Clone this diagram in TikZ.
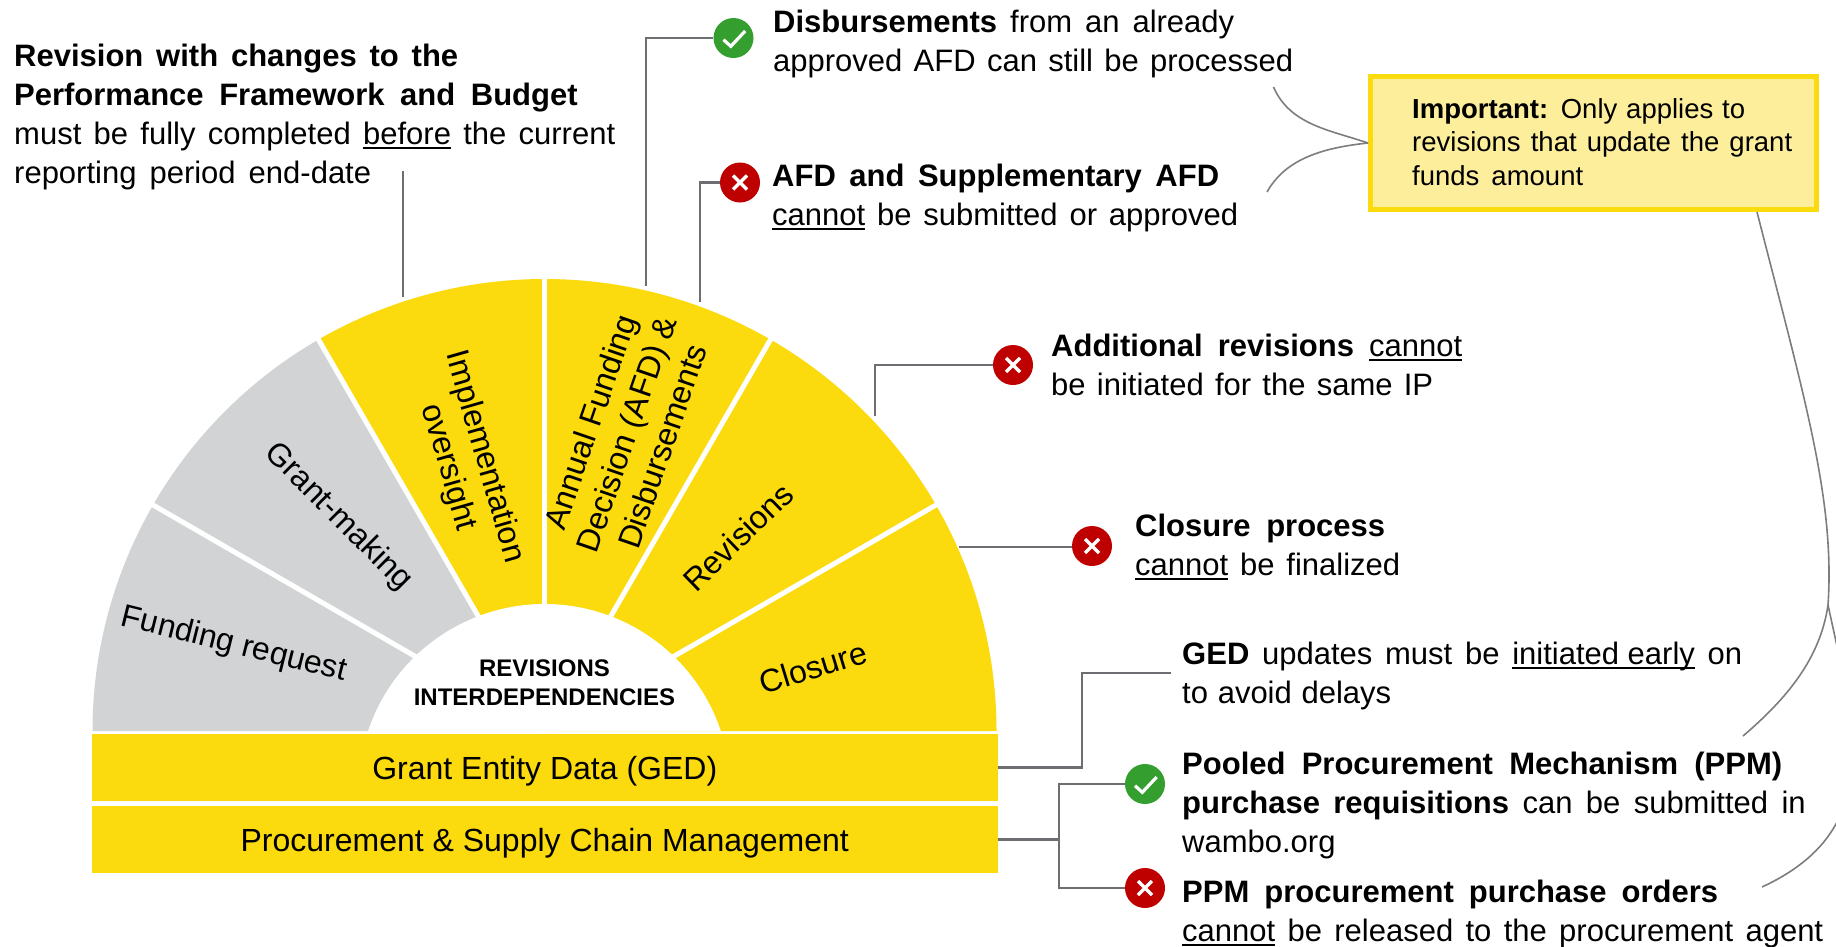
\documentclass[tikz,border=0pt]{standalone}
\usepackage{fontspec}
\setmainfont{Liberation Sans}
\definecolor{gfyellow}{HTML}{FBDA0E}
\definecolor{gfgray}{HTML}{D1D3D4}
\definecolor{gfpale}{HTML}{FDEE9C}
\definecolor{gfline}{HTML}{6D6E71}
\definecolor{gfgreen}{HTML}{349F2E}
\definecolor{gfred}{HTML}{BF0000}
\newcommand{\undl}[1]{\setbox0\hbox{#1}\rlap{\rule[-4pt]{\wd0}{2pt}}\box0\relax}
\newcommand{\fitline}[2]{\makebox[#1pt][s]{#2}}
\tikzset{
    conn/.style={draw=gfline,line width=2.8pt},
    thin conn/.style={draw=gfline!90,line width=1.6pt},
    bar/.style={fill=gfyellow,minimum width=905.5pt,minimum height=67pt,inner sep=0pt,
        text height=23pt,text depth=0pt,font=\fontsize{32}{38}\selectfont},
    sector/.style={inner sep=0pt,align=center,font=\fontsize{32}{38}\selectfont},
    note/.style={anchor=north west,inner sep=0pt,align=left,font=\fontsize{31}{39}\selectfont},
    okicon/.style={circle,fill=gfgreen,minimum size=40pt,inner sep=0pt,
        path picture={\draw[white,line width=3.2pt] ([shift={(-10,-1.7)}]path picture bounding box.center)
            -- ++(7.3,-6.6) -- ++(14.4,15.3);}},
    noicon/.style={circle,fill=gfred,minimum size=40pt,inner sep=0pt,
        path picture={\draw[white,line width=3.4pt] ([shift={(-7,-7)}]path picture bounding box.center) -- ++(14,14)
            ([shift={(-7,7)}]path picture bounding box.center) -- ++(14,-14);}},
}
\begin{document}
\begin{tikzpicture}[x=1pt,y=1pt]
    \clip (0,0) rectangle (1836,-946);
    %% half wheel
    \begin{scope}[shift={(544.5,-731)}]
        \foreach \ang/\col in {180/gfgray,150/gfgray,120/gfyellow,90/gfyellow,60/gfyellow,30/gfyellow}
            \fill[\col] (0,0) -- (\ang:452) arc[start angle=\ang,delta angle=-30,radius=452] -- cycle;
        \foreach \ang in {150,120,...,30}
            \draw[white,line width=5pt] (0,0) -- (\ang:456);
    \end{scope}
    \fill[white] (368.1,-731) arc[start angle=161.5,end angle=18.5,radius=186] -- cycle;
    \node[sector,rotate=-14] (funding) at (234,-645) {Funding request};
    \node[sector,rotate=-45] (grantmaking) at (338,-517) {Grant-making};
    \node[sector,rotate=-74] (oversight) at (466,-462) {Implementation\\oversight};
    \node[sector,rotate=71] (afd) at (626,-434) {Annual Funding\\Decision (AFD) \&\\Disbursements};
    \node[sector,rotate=44] (revisions) at (738,-537) {Revisions};
    \node[sector,rotate=17] (closure) at (813,-667) {Closure};
    \node[inner sep=0pt,align=center,font=\fontsize{24}{29}\bfseries] (hub) at (544.5,-683) {REVISIONS\\INTERDEPENDENCIES};
    %% two bars under the wheel
    \node[bar] (ged) at (544.75,-767.5) {Grant Entity Data (GED)};
    \node[bar] (pscm) at (544.75,-839.5) {Procurement \& Supply Chain Management};
    %% texts and status icons
    \node[note] (txtrevision) at (14,-44) {\fitline{444}{\textbf{Revision with changes to the}}\\
        \fitline{563.5}{\textbf{Performance Framework and Budget}}\\
        \fitline{601}{must be fully completed \undl{before} the current}\\
        \fitline{357}{reporting period end-date}};
    \node[okicon] (okdisb) at (733.5,-38) {};
    \node[note] (txtdisb) at (773,-10) {\fitline{461}{\textbf{Disbursements} from an already}\\
        \fitline{520}{approved AFD can still be processed}};
    \node[noicon] (noafd) at (740,-182.5) {};
    \node[note] (txtafd) at (772,-164) {\fitline{447}{\textbf{AFD and Supplementary AFD}}\\
        \fitline{466}{\undl{cannot} be submitted or approved}};
    \node[noicon] (norev) at (1013,-365) {};
    \node[note] (txtrev) at (1051,-334) {\fitline{411}{\textbf{Additional revisions} \undl{cannot}}\\
        \fitline{382}{be initiated for the same IP}};
    \node[noicon] (noclose) at (1092,-546) {};
    \node[note] (txtclose) at (1135,-514) {\fitline{250}{\textbf{Closure process}}\\
        \fitline{265}{\undl{cannot} be finalized}};
    \node[note] (txtged) at (1182,-642) {\fitline{560}{\textbf{GED} updates must be \undl{initiated early} on}\\
        \fitline{209}{to avoid delays}};
    \node[okicon] (okppm) at (1145,-784) {};
    \node[note] (txtppm) at (1182,-752) {\fitline{600}{\textbf{Pooled Procurement Mechanism (PPM)}}\\
        \fitline{623.5}{\textbf{purchase requisitions} can be submitted in}\\
        wambo.org};
    \node[noicon] (noppm) at (1145,-888) {};
    \node[note] (txtorders) at (1182,-880) {\fitline{536}{\textbf{PPM procurement purchase orders}}\\
        \fitline{641}{\undl{cannot} be released to the procurement agent}};
    \node[draw=gfyellow,fill=gfpale,line width=5pt,minimum width=446pt,minimum height=133pt,anchor=north west,
        inner sep=0pt] (important) at (1368,-74) {};
    \node[note,font=\fontsize{27.5}{33.5}\selectfont] (txtimportant) at (1412,-98) {\fitline{333}{\textbf{Important:} Only applies to}\\
        \fitline{380}{revisions that update the grant}\\
        \fitline{171}{funds amount}};
    %% end points on the wheel and free ends
    \coordinate (wheelimpl) at (403,-297);
    \coordinate (wheeldisb) at (646,-286);
    \coordinate (wheelafd) at (700,-302);
    \coordinate (wheelrev) at (875,-416);
    \coordinate (wheelclose) at (959,-547);
    \coordinate (endimpl) at (403,-171);
    \coordinate (endged) at (1171,-673);
    \coordinate (bendged) at (1082,-767.5);
    \coordinate (stem) at (1059,-839.5);
    %% grey connectors
    \draw[conn] (wheelimpl) -- (endimpl);
    \draw[conn] (wheeldisb) |- (okdisb);
    \draw[conn] (wheelafd) |- (noafd);
    \draw[conn] (wheelrev) |- (norev);
    \draw[conn] (wheelclose) -- (noclose.west |- wheelclose);
    \draw[conn] (ged.east) -- (bendged) |- (endged);
    \draw[conn] (pscm.east) -- (stem);
    \draw[conn] (okppm) -| (stem) |- (noppm);
    %% thin curves from the note
    \coordinate (curvedisb) at (1273.5,-87);
    \coordinate (curveafd) at (1267,-192);
    \coordinate (notefoot) at (1757,-212);
    \coordinate (fork) at (1828,-605);
    \coordinate (curvereq) at (1743,-736);
    \coordinate (curveorders) at (1762,-887);
    \draw[thin conn] (curvedisb) .. controls (1290,-125) and (1330,-130) .. (important.west);
    \draw[thin conn] (curveafd) .. controls (1285,-160) and (1320,-148) .. (important.west);
    \draw[thin conn] (notefoot) .. controls (1805,-400) and (1835,-500) .. (fork);
    \draw[thin conn] (fork) .. controls (1820,-660) and (1785,-700) .. (curvereq);
    \draw[thin conn] (fork) .. controls (1855,-730) and (1885,-830) .. (curveorders);
\end{tikzpicture}
\end{document}
